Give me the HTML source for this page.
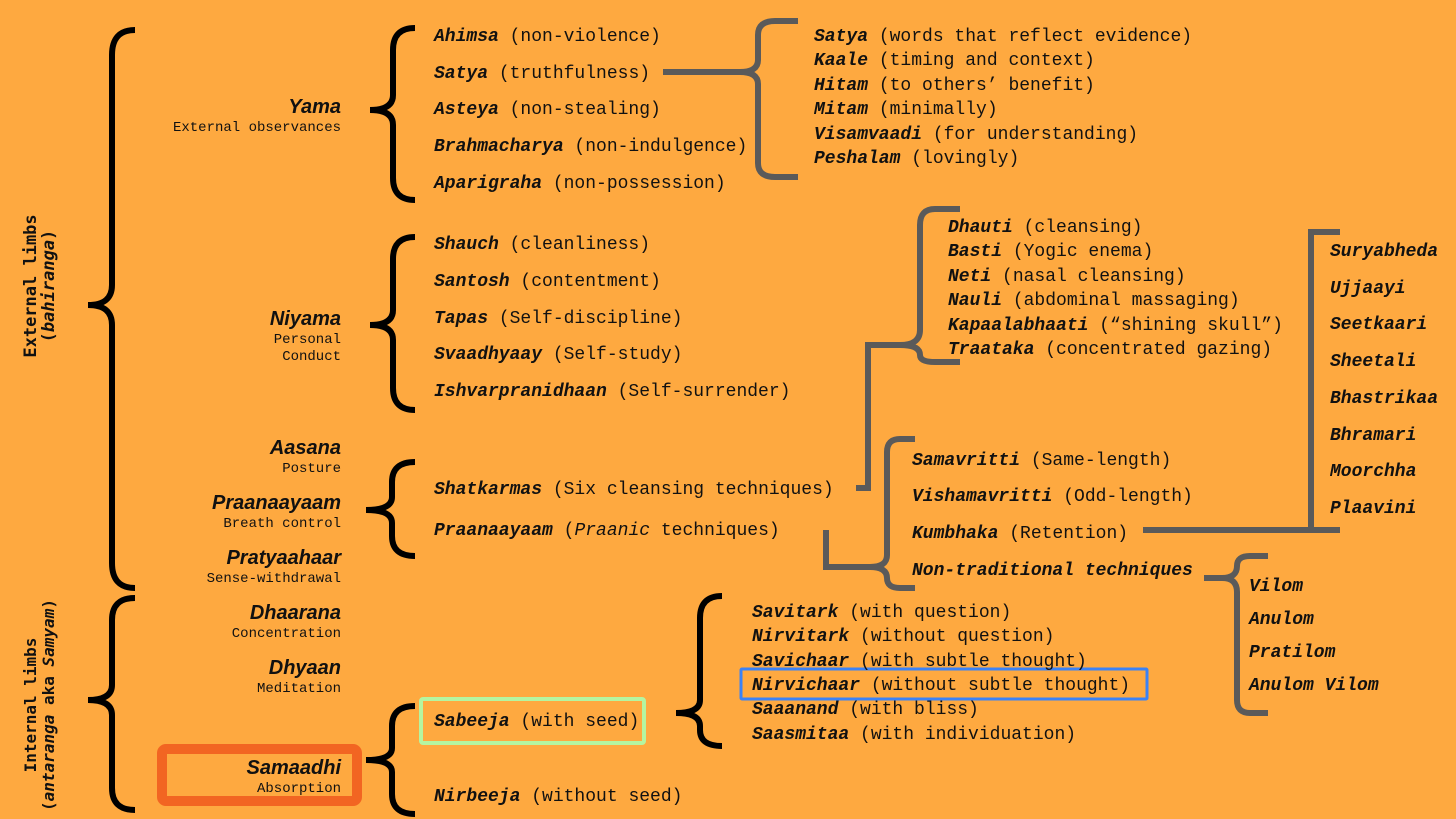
<!DOCTYPE html>
<html><head><meta charset="utf-8"><style>
html,body{margin:0;padding:0;background:#fea940;}
svg{display:block}
text{font-family:"Liberation Mono",monospace;font-size:18px;fill:#111}
.n{font-weight:bold;font-style:italic}
.t{font-family:"Liberation Sans",sans-serif;font-weight:bold;font-style:italic;font-size:20px;text-anchor:end}
.s{font-size:14px;text-anchor:end}
.v{font-family:"DejaVu Sans Mono",monospace;font-weight:bold;font-size:17px;text-anchor:middle}
.v2{font-family:"DejaVu Sans Mono",monospace;font-weight:bold;font-size:16px;text-anchor:middle}
.b{fill:none;stroke:#000;stroke-width:6}
.g{fill:none;stroke:#5a5a5a;stroke-width:6}
</style></head><body>
<svg width="1456" height="819" viewBox="0 0 1456 819">
<rect width="1456" height="819" fill="#fea940"/>
<path class="b" d="M135,30 Q112,30 112,55 L112,285 Q112,305 88,305 Q112,305 112,325 L112,563 Q112,588 135,588"/>
<path class="b" d="M135,598 Q112,598 112,620 L112,685 Q112,700 88,700 Q112,700 112,715 L112,788 Q112,810 135,810"/>
<path class="b" d="M415,28 Q393,28 393,50 L393,95 Q393,110 370,110 Q393,110 393,125 L393,178 Q393,200 415,200"/>
<path class="b" d="M415,237 Q393,237 393,259 L393,310 Q393,325 370,325 Q393,325 393,340 L393,388 Q393,410 415,410"/>
<path class="b" d="M415,462 Q392,462 392,482 L392,497 Q392,510 366,510 Q392,510 392,523 L392,536 Q392,556 415,556"/>
<path class="b" d="M415,706 Q392,706 392,726 L392,748 Q392,760 366,760 Q392,760 392,772 L392,794 Q392,814 415,814"/>
<path class="b" d="M722,596 Q700,596 700,618 L700,700 Q700,713 676,713 Q700,713 700,726 L700,730 Q700,746 722,746"/>
<path class="g" d="M663,72 L740,72 Q758,72 758,60 L758,35 Q758,21 775,21 L798,21"/>
<path class="g" d="M740,72 Q758,72 758,84 L758,163 Q758,177 775,177 L798,177"/>
<path class="g" d="M960,209 L935,209 Q920,209 920,225 L920,330 Q920,345 900,345 L868,345 L868,488 L856,488"/>
<path class="g" d="M900,345 Q920,345 920,355 Q920,362 935,362 L960,362"/>
<path class="g" d="M915,439 L900,439 Q887,439 887,452 L887,555 Q887,567 870,567 L826,567 L826,530"/>
<path class="g" d="M870,567 Q887,567 887,578 Q887,588 900,588 L915,588"/>
<path class="g" d="M1143,530 L1340,530 M1311,530 L1311,232 L1340,232"/>
<path class="g" d="M1204,578 L1222,578 Q1237,578 1237,566 Q1237,556 1250,556 L1268,556"/>
<path class="g" d="M1222,578 Q1237,578 1237,592 L1237,700 Q1237,713 1250,713 L1268,713"/>
<rect x="162" y="749" width="195" height="52" rx="4" fill="none" stroke="#f26522" stroke-width="10"/>
<rect x="421" y="699" width="223" height="44" rx="2" fill="none" stroke="#b5f5a0" stroke-width="4"/>
<rect x="741" y="669" width="406" height="30" rx="1" fill="none" stroke="#3b82f6" stroke-width="3"/>
<text class="v" transform="translate(36,286) rotate(-90)">External limbs</text>
<text class="v" transform="translate(54,286) rotate(-90)">(<tspan font-style="italic">bahiranga</tspan>)</text>
<text class="v2" transform="translate(36,705) rotate(-90)">Internal limbs</text>
<text class="v2" transform="translate(54,705) rotate(-90)">(<tspan font-style="italic">antaranga</tspan> aka <tspan font-style="italic">Samyam</tspan>)</text>
<text class="t" x="341" y="113">Yama</text><text class="s" x="341" y="131">External observances</text>
<text class="t" x="341" y="325">Niyama</text><text class="s" x="341" y="343">Personal</text><text class="s" x="341" y="360">Conduct</text>
<text class="t" x="341" y="454">Aasana</text><text class="s" x="341" y="472">Posture</text>
<text class="t" x="341" y="509">Praanaayaam</text><text class="s" x="341" y="527">Breath control</text>
<text class="t" x="341" y="564">Pratyaahaar</text><text class="s" x="341" y="582">Sense-withdrawal</text>
<text class="t" x="341" y="619">Dhaarana</text><text class="s" x="341" y="637">Concentration</text>
<text class="t" x="341" y="674">Dhyaan</text><text class="s" x="341" y="692">Meditation</text>
<text class="t" x="341" y="774">Samaadhi</text><text class="s" x="341" y="792">Absorption</text>
<g transform="translate(434,0)">
<text y="41"><tspan class="n">Ahimsa</tspan> (non-violence)</text>
<text y="78"><tspan class="n">Satya</tspan> (truthfulness)</text>
<text y="114"><tspan class="n">Asteya</tspan> (non-stealing)</text>
<text y="151"><tspan class="n">Brahmacharya</tspan> (non-indulgence)</text>
<text y="188"><tspan class="n">Aparigraha</tspan> (non-possession)</text>
<text y="249"><tspan class="n">Shauch</tspan> (cleanliness)</text>
<text y="286"><tspan class="n">Santosh</tspan> (contentment)</text>
<text y="323"><tspan class="n">Tapas</tspan> (Self-discipline)</text>
<text y="359"><tspan class="n">Svaadhyaay</tspan> (Self-study)</text>
<text y="396"><tspan class="n">Ishvarpranidhaan</tspan> (Self-surrender)</text>
<text y="494"><tspan class="n">Shatkarmas</tspan> (Six cleansing techniques)</text>
<text y="535"><tspan class="n">Praanaayaam</tspan> (<tspan font-style="italic">Praanic</tspan> techniques)</text>
<text y="726"><tspan class="n">Sabeeja</tspan> (with seed)</text>
<text y="801"><tspan class="n">Nirbeeja</tspan> (without seed)</text>
</g>
<g transform="translate(814,0)">
<text y="41"><tspan class="n">Satya</tspan> (words that reflect evidence)</text>
<text y="65"><tspan class="n">Kaale</tspan> (timing and context)</text>
<text y="90"><tspan class="n">Hitam</tspan> (to others’ benefit)</text>
<text y="114"><tspan class="n">Mitam</tspan> (minimally)</text>
<text y="139"><tspan class="n">Visamvaadi</tspan> (for understanding)</text>
<text y="163"><tspan class="n">Peshalam</tspan> (lovingly)</text>
</g>
<g transform="translate(948,0)">
<text y="232"><tspan class="n">Dhauti</tspan> (cleansing)</text>
<text y="256"><tspan class="n">Basti</tspan> (Yogic enema)</text>
<text y="281"><tspan class="n">Neti</tspan> (nasal cleansing)</text>
<text y="305"><tspan class="n">Nauli</tspan> (abdominal massaging)</text>
<text y="330"><tspan class="n">Kapaalabhaati</tspan> (“shining skull”)</text>
<text y="354"><tspan class="n">Traataka</tspan> (concentrated gazing)</text>
</g>
<g transform="translate(912,0)">
<text y="465"><tspan class="n">Samavritti</tspan> (Same-length)</text>
<text y="501"><tspan class="n">Vishamavritti</tspan> (Odd-length)</text>
<text y="538"><tspan class="n">Kumbhaka</tspan> (Retention)</text>
<text y="575" class="n">Non-traditional techniques</text>
</g>
<g transform="translate(1330,0)">
<text class="n" y="256">Suryabheda</text>
<text class="n" y="293">Ujjaayi</text>
<text class="n" y="329">Seetkaari</text>
<text class="n" y="366">Sheetali</text>
<text class="n" y="403">Bhastrikaa</text>
<text class="n" y="440">Bhramari</text>
<text class="n" y="476">Moorchha</text>
<text class="n" y="513">Plaavini</text>
</g>
<g transform="translate(1249,0)">
<text class="n" y="591">Vilom</text>
<text class="n" y="624">Anulom</text>
<text class="n" y="657">Pratilom</text>
<text class="n" y="690">Anulom Vilom</text>
</g>
<g transform="translate(752,0)">
<text y="617"><tspan class="n">Savitark</tspan> (with question)</text>
<text y="641"><tspan class="n">Nirvitark</tspan> (without question)</text>
<text y="666"><tspan class="n">Savichaar</tspan> (with subtle thought)</text>
<text y="690"><tspan class="n">Nirvichaar</tspan> (without subtle thought)</text>
<text y="714"><tspan class="n">Saaanand</tspan> (with bliss)</text>
<text y="739"><tspan class="n">Saasmitaa</tspan> (with individuation)</text>
</g>
</svg>
</body></html>
